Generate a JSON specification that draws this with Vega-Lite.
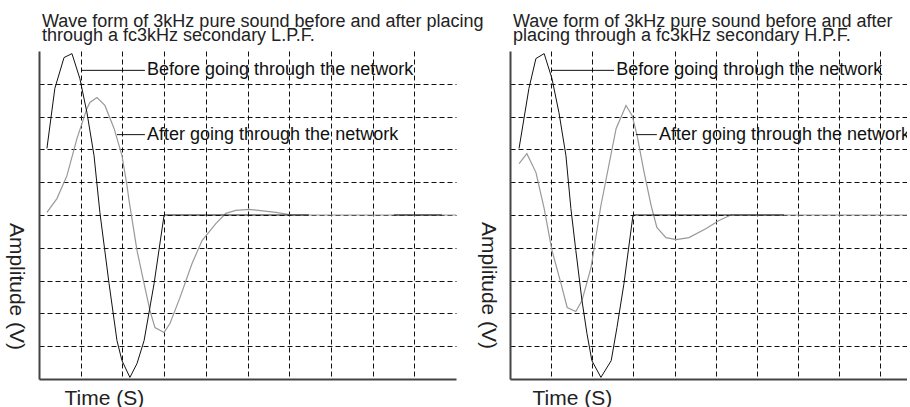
{
  "$schema": "https://vega.github.io/schema/vega-lite/v6.json",
  "background": "white",
  "padding": {"left": 5, "top": 12, "right": 0, "bottom": 0},
  "bounds": "flush",
  "spacing": 54,
  "config": {
    "view": {"stroke": null},
    "font": "Liberation Sans",
    "axis": {
      "labels": false, "ticks": false, "grid": true,
      "gridColor": "#111", "gridDash": [5, 3], "gridWidth": 1, "gridOpacity": 1,
      "domain": true, "domainColor": "#444", "domainWidth": 2,
      "titleFont": "Liberation Sans", "titleFontWeight": "normal", "titleColor": "#222"
    },
    "title": {"font": "Liberation Sans", "fontWeight": "normal", "fontSize": 18, "color": "#222", "anchor": "start", "frame": "group", "dx": 3, "lineHeight": 14.5, "offset": 6, "baseline": "alphabetic"}
  },
  "datasets": {
    "curves": [
      {"p":"L","s":"a","g":1,"x":0.19,"y":0.08},{"p":"L","s":"a","g":1,"x":0.43,"y":0.5},{"p":"L","s":"a","g":1,"x":0.67,"y":1.2},{"p":"L","s":"a","g":1,"x":0.91,"y":2.33},{"p":"L","s":"a","g":1,"x":1.15,"y":3.25},{"p":"L","s":"a","g":1,"x":1.22,"y":3.43},{"p":"L","s":"a","g":1,"x":1.39,"y":3.58},{"p":"L","s":"a","g":1,"x":1.58,"y":3.34},{"p":"L","s":"a","g":1,"x":1.8,"y":2.64},{"p":"L","s":"a","g":1,"x":1.99,"y":1.81},{"p":"L","s":"a","g":1,"x":2.11,"y":0.9},{"p":"L","s":"a","g":1,"x":2.16,"y":0.44},{"p":"L","s":"a","g":1,"x":2.35,"y":-1.08},{"p":"L","s":"a","g":1,"x":2.52,"y":-2.09},{"p":"L","s":"a","g":1,"x":2.66,"y":-2.91},{"p":"L","s":"a","g":1,"x":2.78,"y":-3.43},{"p":"L","s":"a","g":1,"x":3.0,"y":-3.58},{"p":"L","s":"a","g":1,"x":3.14,"y":-3.31},{"p":"L","s":"a","g":1,"x":3.38,"y":-2.52},{"p":"L","s":"a","g":1,"x":3.67,"y":-1.48},{"p":"L","s":"a","g":1,"x":3.91,"y":-0.78},{"p":"L","s":"a","g":1,"x":4.24,"y":-0.26},{"p":"L","s":"a","g":1,"x":4.48,"y":0.05},{"p":"L","s":"a","g":1,"x":4.72,"y":0.14},{"p":"L","s":"a","g":1,"x":5.04,"y":0.17},{"p":"L","s":"a","g":1,"x":5.68,"y":0.08},{"p":"L","s":"a","g":1,"x":6.07,"y":0},{"p":"L","s":"a","g":1,"x":10,"y":0},
      {"p":"L","s":"b","g":1,"x":0.19,"y":2.03},{"p":"L","s":"b","g":1,"x":0.38,"y":3.86},{"p":"L","s":"b","g":1,"x":0.6,"y":4.8},{"p":"L","s":"b","g":1,"x":0.79,"y":4.92},{"p":"L","s":"b","g":1,"x":0.98,"y":4.16},{"p":"L","s":"b","g":1,"x":1.15,"y":3.12},{"p":"L","s":"b","g":1,"x":1.32,"y":1.81},{"p":"L","s":"b","g":1,"x":1.46,"y":0.08},{"p":"L","s":"b","g":1,"x":1.68,"y":-2.09},{"p":"L","s":"b","g":1,"x":1.87,"y":-3.83},{"p":"L","s":"b","g":1,"x":1.99,"y":-4.44},{"p":"L","s":"b","g":1,"x":2.18,"y":-4.95},{"p":"L","s":"b","g":1,"x":2.35,"y":-4.53},{"p":"L","s":"b","g":1,"x":2.52,"y":-3.83},{"p":"L","s":"b","g":1,"x":2.76,"y":-2.09},{"p":"L","s":"b","g":1,"x":3.0,"y":0},{"p":"L","s":"b","g":1,"x":6.47,"y":0},
      {"p":"L","s":"b","g":2,"x":8.51,"y":0},{"p":"L","s":"b","g":2,"x":9.66,"y":0},
      {"p":"H","s":"a","g":1,"x":0.22,"y":1.57},{"p":"H","s":"a","g":1,"x":0.41,"y":1.87},{"p":"H","s":"a","g":1,"x":0.63,"y":1.3},{"p":"H","s":"a","g":1,"x":0.83,"y":0.2},{"p":"H","s":"a","g":1,"x":1.02,"y":-1.08},{"p":"H","s":"a","g":1,"x":1.24,"y":-2.09},{"p":"H","s":"a","g":1,"x":1.39,"y":-2.82},{"p":"H","s":"a","g":1,"x":1.6,"y":-2.94},{"p":"H","s":"a","g":1,"x":1.75,"y":-2.61},{"p":"H","s":"a","g":1,"x":1.97,"y":-1.6},{"p":"H","s":"a","g":1,"x":2.21,"y":0.29},{"p":"H","s":"a","g":1,"x":2.58,"y":2.64},{"p":"H","s":"a","g":1,"x":2.82,"y":3.34},{"p":"H","s":"a","g":1,"x":2.97,"y":3.03},{"p":"H","s":"a","g":1,"x":3.09,"y":2.42},{"p":"H","s":"a","g":1,"x":3.26,"y":1.3},{"p":"H","s":"a","g":1,"x":3.43,"y":0.29},{"p":"H","s":"a","g":1,"x":3.57,"y":-0.38},{"p":"H","s":"a","g":1,"x":3.79,"y":-0.69},{"p":"H","s":"a","g":1,"x":4.04,"y":-0.75},{"p":"H","s":"a","g":1,"x":4.35,"y":-0.69},{"p":"H","s":"a","g":1,"x":4.77,"y":-0.41},{"p":"H","s":"a","g":1,"x":5.08,"y":-0.17},{"p":"H","s":"a","g":1,"x":5.37,"y":0},{"p":"H","s":"a","g":1,"x":9.65,"y":0},
      {"p":"H","s":"b","g":1,"x":0.22,"y":2.03},{"p":"H","s":"b","g":1,"x":0.46,"y":3.86},{"p":"H","s":"b","g":1,"x":0.63,"y":4.77},{"p":"H","s":"b","g":1,"x":0.83,"y":4.92},{"p":"H","s":"b","g":1,"x":1.02,"y":4.16},{"p":"H","s":"b","g":1,"x":1.19,"y":3.12},{"p":"H","s":"b","g":1,"x":1.36,"y":1.81},{"p":"H","s":"b","g":1,"x":1.48,"y":0.2},{"p":"H","s":"b","g":1,"x":1.6,"y":-1.08},{"p":"H","s":"b","g":1,"x":1.75,"y":-2.61},{"p":"H","s":"b","g":1,"x":1.87,"y":-3.61},{"p":"H","s":"b","g":1,"x":1.99,"y":-4.44},{"p":"H","s":"b","g":1,"x":2.21,"y":-4.95},{"p":"H","s":"b","g":1,"x":2.46,"y":-4.44},{"p":"H","s":"b","g":1,"x":2.6,"y":-3.43},{"p":"H","s":"b","g":1,"x":2.77,"y":-2.09},{"p":"H","s":"b","g":1,"x":2.99,"y":0},{"p":"H","s":"b","g":1,"x":6.66,"y":0}
    ],
    "ann": [
      {"p":"L","x":1.01,"x2":2.54,"xt":2.59,"y":4.41,"t":"Before going through the network"},
      {"p":"L","x":1.87,"x2":2.54,"xt":2.59,"y":2.45,"t":"After going through the network"},
      {"p":"H","x":1.0,"x2":2.53,"xt":2.58,"y":4.41,"t":"Before going through the network"},
      {"p":"H","x":3.06,"x2":3.57,"xt":3.62,"y":2.45,"t":"After going through the network"}
    ]
  },
  "hconcat": [
    {
      "width": 417, "height": 328,
      "title": {"text": ["Wave form of 3kHz pure sound before and after placing", "through a fc3kHz secondary L.P.F."]},
      "layer": [
        {
          "data": {"name": "curves"},
          "transform": [{"filter": "datum.p == 'L' && datum.s == 'a'"}],
          "mark": {"type": "line", "color": "#999", "strokeWidth": 1.2, "clip": true},
          "encoding": {
            "x": {"field": "x", "type": "quantitative", "scale": {"domain": [0, 10], "nice": false, "zero": false},
                  "axis": {"title": "Time (S)", "values": [1,2,3,4,5,6,7,8,9], "titleX": 25, "titleY": 19, "titleAlign": "left", "titleBaseline": "middle", "titleFontSize": 21}},
            "y": {"field": "y", "type": "quantitative", "scale": {"domain": [-5, 5], "nice": false, "zero": false},
                  "axis": {"title": "Amplitude (V)", "values": [-4,-3,-2,-1,0,1,2,3,4], "titleAngle": 90, "titleX": -24, "titleY": 235, "titleAlign": "center", "titleBaseline": "middle", "titleFontSize": 21}},
            "detail": {"field": "g"}
          }
        },
        {
          "data": {"name": "curves"},
          "transform": [{"filter": "datum.p == 'L' && datum.s == 'b'"}],
          "mark": {"type": "line", "color": "#111", "strokeWidth": 1, "clip": true},
          "encoding": {
            "x": {"field": "x", "type": "quantitative"},
            "y": {"field": "y", "type": "quantitative"},
            "detail": {"field": "g"}
          }
        },
        {
          "mark": {"type": "rule", "color": "#111", "strokeWidth": 1},
          "encoding": {"y": {"datum": 5}}
        },
        {
          "mark": {"type": "rule", "color": "#111", "strokeWidth": 1},
          "encoding": {"x": {"datum": 10}}
        },
        {
          "data": {"name": "ann"},
          "transform": [{"filter": "datum.p == 'L'"}],
          "mark": {"type": "rule", "color": "#111", "strokeWidth": 1},
          "encoding": {
            "x": {"field": "x", "type": "quantitative"},
            "x2": {"field": "x2"},
            "y": {"field": "y", "type": "quantitative"}
          }
        },
        {
          "data": {"name": "ann"},
          "transform": [{"filter": "datum.p == 'L'"}],
          "mark": {"type": "text", "align": "left", "baseline": "middle", "fontSize": 18, "color": "#111", "clip": true},
          "encoding": {
            "x": {"field": "xt", "type": "quantitative"},
            "y": {"field": "y", "type": "quantitative"},
            "text": {"field": "t"}
          }
        }
      ]
    },
    {
      "width": 397, "height": 328,
      "title": {"text": ["Wave form of 3kHz pure sound before and after", "placing through a fc3kHz secondary H.P.F."]},
      "layer": [
        {
          "data": {"name": "curves"},
          "transform": [{"filter": "datum.p == 'H' && datum.s == 'a'"}],
          "mark": {"type": "line", "color": "#999", "strokeWidth": 1.2, "clip": true},
          "encoding": {
            "x": {"field": "x", "type": "quantitative", "scale": {"domain": [0, 9.65], "nice": false, "zero": false},
                  "axis": {"title": "Time (S)", "values": [1,2,3,4,5,6,7,8,9], "titleX": 22, "titleY": 19, "titleAlign": "left", "titleBaseline": "middle", "titleFontSize": 21}},
            "y": {"field": "y", "type": "quantitative", "scale": {"domain": [-5, 5], "nice": false, "zero": false},
                  "axis": {"title": "Amplitude (V)", "values": [-4,-3,-2,-1,0,1,2,3,4], "titleAngle": 90, "titleX": -23, "titleY": 234, "titleAlign": "center", "titleBaseline": "middle", "titleFontSize": 21}},
            "detail": {"field": "g"}
          }
        },
        {
          "data": {"name": "curves"},
          "transform": [{"filter": "datum.p == 'H' && datum.s == 'b'"}],
          "mark": {"type": "line", "color": "#111", "strokeWidth": 1, "clip": true},
          "encoding": {
            "x": {"field": "x", "type": "quantitative"},
            "y": {"field": "y", "type": "quantitative"},
            "detail": {"field": "g"}
          }
        },
        {
          "mark": {"type": "rule", "color": "#111", "strokeWidth": 1},
          "encoding": {"y": {"datum": 5}}
        },
        {
          "data": {"name": "ann"},
          "transform": [{"filter": "datum.p == 'H'"}],
          "mark": {"type": "rule", "color": "#111", "strokeWidth": 1},
          "encoding": {
            "x": {"field": "x", "type": "quantitative"},
            "x2": {"field": "x2"},
            "y": {"field": "y", "type": "quantitative"}
          }
        },
        {
          "data": {"name": "ann"},
          "transform": [{"filter": "datum.p == 'H'"}],
          "mark": {"type": "text", "align": "left", "baseline": "middle", "fontSize": 18, "color": "#111", "clip": true},
          "encoding": {
            "x": {"field": "xt", "type": "quantitative"},
            "y": {"field": "y", "type": "quantitative"},
            "text": {"field": "t"}
          }
        }
      ]
    }
  ]
}
